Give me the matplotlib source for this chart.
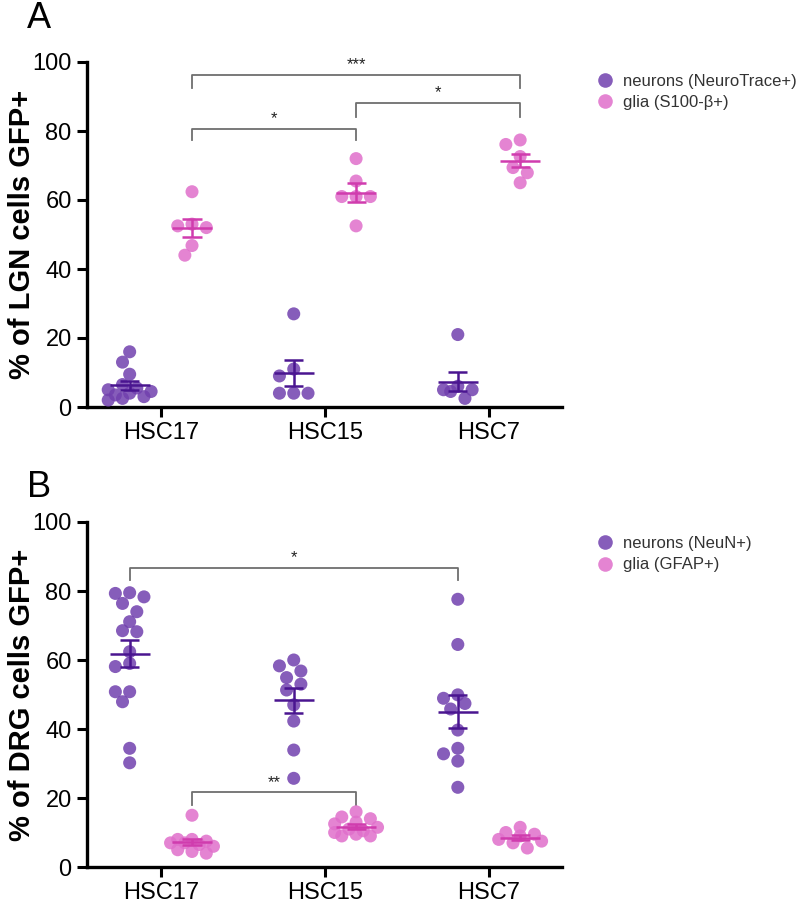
import numpy as np
import matplotlib
matplotlib.use("Agg")
import matplotlib.pyplot as plt
from matplotlib.lines import Line2D

plt.rcParams['font.family'] = ['Liberation Sans', 'DejaVu Sans']

# ---------------- data ----------------
groups = ["HSC17", "HSC15", "HSC7"]

# Panel A (LGN)
lgn_neurons = [
    [16, 13, 9.5, 6.5, 5.5, 5, 4.5, 4, 3.5, 3, 2.5, 2],
    [27, 11, 9, 4, 4, 4],
    [21, 6, 5, 5, 4.5, 2.5],
]
lgn_glia = [
    [62.4, 53, 52.5, 52, 46.8, 44.0],
    [72, 65.5, 61, 61, 61, 52.5],
    [77.4, 76.1, 72.6, 69.4, 67.9, 65.0],
]
lgn_labels = ["neurons (NeuroTrace+)", "glia (S100-β+)"]

# Panel B (DRG)
drg_neurons = [
    [79.5, 79.3, 78.3, 76.4, 74.0, 71.1, 68.5, 68.2, 62.4, 59.0, 58.1, 50.8, 50.8, 47.9, 34.4, 30.2],
    [60.0, 58.3, 56.8, 54.9, 53.0, 51.3, 47.0, 42.3, 33.9, 25.7],
    [77.6, 64.5, 49.9, 48.9, 47.4, 45.8, 39.7, 34.4, 32.8, 30.7, 23.1],
]
drg_glia = [
    [15, 8, 8, 7.5, 7, 7, 6.5, 6, 5, 4.5, 4],
    [16, 14.5, 14, 13, 12.5, 11.5, 11, 10.5, 10, 9.5, 9, 9],
    [11.5, 10, 9.5, 9, 8, 7.5, 7, 5.5],
]
drg_labels = ["neurons (NeuN+)", "glia (GFAP+)"]

# significance brackets: (series_from, group_from, series_to, group_to, y_line, leg_left, leg_right, text)
lgn_sig = [
    (1, 0, 1, 2, 96.2, 92.4, 92.4, "***"),
    (1, 0, 1, 1, 80.6, 77.4, 77.4, "*"),
    (1, 1, 1, 2, 88.2, 84.1, 84.1, "*"),
]
drg_sig = [
    (0, 0, 0, 2, 86.7, 83.2, 83.2, "*"),
    (1, 0, 1, 1, 21.6, 18.0, 18.0, "**"),
]

# ---------------- style ----------------
c_neuron = "#7140ae"
c_glia = "#e06fcb"
c_neuron_bar = "#4a1590"
c_glia_bar = "#d03cae"
offset = 0.19
marker_d_px = 13.0

fig = plt.figure(figsize=(8, 9.05), dpi=100)
W, H = 800, 905


def make_ax(top_px):
    left, right, bottom_px = 87, 562, top_px + 345
    return fig.add_axes([left / W, 1 - bottom_px / H, (right - left) / W, 345 / H])


def swarm(ax, xc, vals):
    """compact beeswarm in display space (overlap allowed)"""
    vals = np.asarray(vals, float)
    order = np.argsort(-vals)
    pts = ax.transData.transform(np.column_stack([np.full(len(vals), xc), vals]))
    placed = []
    xs = np.zeros(len(vals))
    step = 0.55 * marker_d_px
    thr = 0.85 * marker_d_px
    for i in order:
        px, py = pts[i]
        best, best_d = px, -1
        for k in [0, -1, 1, -2, 2, -3, 3]:
            cx = px + k * step
            dmin = min([np.hypot(cx - qx, py - qy) for qx, qy in placed] + [1e9])
            if dmin >= thr:
                best = cx
                break
            if dmin > best_d + 0.5:
                best, best_d = cx, dmin
        placed.append((best, py))
        xs[i] = best
    data = ax.transData.inverted().transform(np.column_stack([xs, pts[:, 1]]))
    return data[:, 0]


def draw_series(ax, xc, vals, color, barcolor):
    xs = swarm(ax, xc, vals)
    ax.scatter(xs, vals, s=88, color=color, alpha=0.85, edgecolors='none', zorder=3, clip_on=False)
    v = np.asarray(vals, float)
    m = v.mean()
    sem = v.std(ddof=1) / np.sqrt(len(v))
    ax.hlines(m, xc - 0.122, xc + 0.122, color=barcolor, lw=1.8, zorder=4)
    ax.vlines(xc, m - sem, m + sem, color=barcolor, lw=1.8, zorder=4)
    ax.hlines([m - sem, m + sem], xc - 0.058, xc + 0.058, color=barcolor, lw=1.8, zorder=4)


def panel(top_px, neurons, glia, ylabel, labels, sig, letter, letter_base, legend_y):
    ax = make_ax(top_px)
    ax.set_xlim(-0.45, 2.445)
    ax.set_ylim(0, 100)
    fig.canvas.draw()
    for i in range(len(groups)):
        draw_series(ax, i - offset, neurons[i], c_neuron, c_neuron_bar)
        draw_series(ax, i + offset, glia[i], c_glia, c_glia_bar)
    offs = [-offset, offset]
    for s0, g0, s1, g1, yl, l0, l1, txt in sig:
        x0 = g0 + offs[s0]
        x1 = g1 + offs[s1]
        ax.plot([x0, x0, x1, x1], [l0, yl, yl, l1], color="#6e6e6e", lw=1.3, clip_on=False, zorder=2)
        ax.text((x0 + x1) / 2, yl + 0.8, txt, ha='center', va='bottom', fontsize=12, color='#222222')
    ax.set_xticks(range(len(groups)))
    ax.set_xticklabels(groups, fontsize=17)
    ax.set_yticks([0, 20, 40, 60, 80, 100])
    ax.tick_params(axis='both', labelsize=17, width=2.2, length=7, color='black', pad=4)
    for sp in ['top', 'right']:
        ax.spines[sp].set_visible(False)
    for sp in ['left', 'bottom']:
        ax.spines[sp].set_linewidth(2.4)
    ax.set_ylabel(ylabel, fontsize=21, fontweight='bold')
    ax.yaxis.set_label_coords(-0.108, 0.5)
    fig.text(27 / W, 1 - letter_base / H, letter, fontsize=26, va='baseline', ha='left')
    handles = [Line2D([], [], marker='o', ls='none', markersize=10.5, color=c, alpha=0.85, markeredgewidth=0)
               for c in (c_neuron, c_glia)]
    ax.legend(handles, labels, loc='upper left', bbox_to_anchor=(588 / W, 1 - legend_y / H),
              bbox_transform=fig.transFigure, frameon=False, fontsize=12, handletextpad=0.5,
              labelspacing=0.4, labelcolor='#333333', handlelength=1.2, borderaxespad=0)
    return ax


panel(62, lgn_neurons, lgn_glia, "% of LGN cells GFP+", lgn_labels, lgn_sig, "A", 28, 67)
panel(522, drg_neurons, drg_glia, "% of DRG cells GFP+", drg_labels, drg_sig, "B", 497, 529)

fig.savefig("out.png", dpi=100)
